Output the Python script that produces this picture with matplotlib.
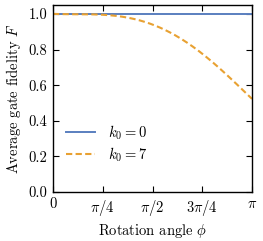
import numpy as np
import matplotlib
matplotlib.use("Agg")
import matplotlib.pyplot as plt

plt.rcParams.update({
    "font.family": "serif",
    "font.serif": ["cmr10", "DejaVu Serif"],
    "mathtext.fontset": "cm",
    "axes.formatter.use_mathtext": True,
    "font.size": 10.5,
    "xtick.direction": "in",
    "ytick.direction": "in",
    "xtick.top": True,
    "ytick.right": True,
    "axes.linewidth": 1.0,
})

phi_frac = [0, 0.125, 0.25, 0.375, 0.5, 0.625, 0.75, 0.875, 1.0]
F_k0 = [1.0, 1.0, 1.0, 1.0, 1.0, 1.0, 1.0, 1.0, 1.0]
F_k7 = [1.0, 0.999, 0.996, 0.974, 0.945, 0.875, 0.77, 0.66, 0.522]
xtick_labels = ["0", r"$\pi/4$", r"$\pi/2$", r"$3\pi/4$", r"$\pi$"]

phi = np.array(phi_frac) * np.pi
fine = np.linspace(0, np.pi, 200)
coef = np.polyfit(phi, F_k7, 5)
F7_fine = np.polyval(coef, fine)

fig = plt.figure(figsize=(2.63, 2.41), dpi=100)
ax = fig.add_axes([53/263, 1-192/241, 199/263, 187/241])
ax.plot(phi, F_k0, color="#5a7fbf", lw=1.4, label=r"$k_0 = 0$")
ax.plot(fine, F7_fine, color="#e8a132", lw=1.5, ls=(0, (3, 1.6)), label=r"$k_0 = 7$")
ax.set_xlim(0, np.pi)
ax.set_ylim(0, 1.05)
ax.set_xticks(np.pi * np.array([0, 0.25, 0.5, 0.75, 1.0]))
ax.set_xticklabels(xtick_labels)
ax.set_yticks([0, 0.2, 0.4, 0.6, 0.8, 1.0])
ax.set_yticklabels(["0.0", "0.2", "0.4", "0.6", "0.8", "1.0"])
ax.tick_params(length=4, pad=4)
ax.set_xlabel(r"Rotation angle $\phi$", labelpad=3)
ax.set_ylabel(r"Average gate fidelity $F$", labelpad=4)
ax.legend(loc="lower left", frameon=False, handlelength=2.0, handletextpad=0.9,
          labelspacing=0.25, bbox_to_anchor=(0.0, 0.08))
fig.savefig("out.png", dpi=100)
